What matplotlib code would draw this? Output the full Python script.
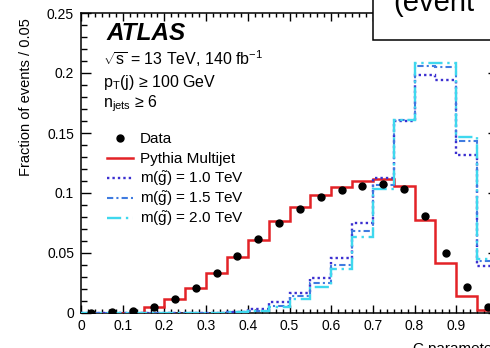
import numpy as np
import matplotlib
matplotlib.use("Agg")
import matplotlib.pyplot as plt
from matplotlib.patches import Rectangle
from matplotlib.ticker import MultipleLocator

plt.rcParams['font.family'] = ['Liberation Sans', 'DejaVu Sans']
plt.rcParams['mathtext.fontset'] = 'custom'
plt.rcParams['mathtext.rm'] = 'Liberation Sans'
plt.rcParams['mathtext.it'] = 'Liberation Sans:italic'
plt.rcParams['mathtext.bf'] = 'Liberation Sans:bold'

# C-parameter bins (width 0.05)
edges = np.linspace(0.0, 1.0, 21)
centers = 0.5 * (edges[:-1] + edges[1:])

data_frac = [0.0, 0.0005, 0.002, 0.005, 0.0114, 0.0205, 0.033, 0.0475,
             0.0614, 0.0747, 0.0864, 0.0964, 0.1025, 0.106, 0.1075, 0.1033,
             0.081, 0.0497, 0.022, 0.0047]
pythia = [0.0, 0.0, 0.0, 0.0047, 0.0114, 0.021, 0.033, 0.047,
          0.061, 0.077, 0.0886, 0.098, 0.105, 0.110, 0.1114, 0.106,
          0.0775, 0.042, 0.014, 0.0025]
gluino_10 = [0.0, 0.0, 0.0, 0.0, 0.0, 0.0, 0.0, 0.001,
             0.003, 0.009, 0.017, 0.029, 0.0455, 0.075, 0.1125, 0.160,
             0.198, 0.194, 0.132, 0.039]
gluino_15 = [0.0, 0.0, 0.0, 0.0, 0.0, 0.0, 0.0, 0.001,
             0.002, 0.006, 0.014, 0.025, 0.040, 0.068, 0.107, 0.161,
             0.206, 0.205, 0.143, 0.043]
gluino_20 = [0.0, 0.0, 0.0, 0.0, 0.0, 0.0, 0.0, 0.001,
             0.002, 0.0047, 0.012, 0.022, 0.037, 0.0636, 0.103, 0.161,
             0.208, 0.208, 0.147, 0.045]

signals = [
    (gluino_10, r'm($\tilde{\mathrm{g}}$) = 1.0 TeV', '#3b2fd0', 1.7, (0, (1, 1.3))),
    (gluino_15, r'm($\tilde{\mathrm{g}}$) = 1.5 TeV', '#3f7be0', 1.5, (0, (3, 1.5, 1, 1.5))),
    (gluino_20, r'm($\tilde{\mathrm{g}}$) = 2.0 TeV', '#3fd8ee', 1.7, (0, (6, 2, 1, 2))),
]

fig = plt.figure(figsize=(4.9, 3.48), dpi=100)
# right edge of the frame runs past the figure border
ax = fig.add_axes([81 / 490, 35 / 348, 417 / 490, 300 / 348])

ax.stairs(pythia, edges, color='#e32227', lw=1.8, zorder=3)
for vals, lab, col, lw, ls in signals:
    ax.stairs(vals, edges, color=col, lw=lw, ls=ls, zorder=4)
ax.plot(centers, data_frac, 'o', color='black', ms=5, zorder=5)

ax.set_xlim(0, 1)
ax.set_ylim(0, 0.25)
ax.xaxis.set_minor_locator(MultipleLocator(0.1 / 6))
ax.yaxis.set_minor_locator(MultipleLocator(0.01))
ax.set_xticks(np.arange(0, 1.01, 0.1))
ax.set_xticklabels(['0', '0.1', '0.2', '0.3', '0.4', '0.5', '0.6', '0.7', '0.8', '0.9', '1'])
ax.set_yticks([0, 0.05, 0.1, 0.15, 0.2, 0.25])
ax.set_yticklabels(['0', '0.05', '0.1', '0.15', '0.2', '0.25'])
ax.tick_params(which='both', direction='in', top=True, right=True, labelsize=10, width=1.0)
ax.tick_params(axis='y', which='major', length=7.5, pad=5)
ax.tick_params(axis='y', which='minor', length=4.2)
ax.tick_params(axis='x', which='major', length=6, pad=4.5)
ax.tick_params(axis='x', which='minor', length=3)
for s in ax.spines.values():
    s.set_linewidth(1.1)

ax.set_xlabel('C-parameter', fontsize=11, loc='right')
ax.xaxis.set_label_coords(1.0, -0.095)
ax.set_ylabel('Fraction of events / 0.05', fontsize=10.5, loc='top')
ax.yaxis.set_label_coords(-0.115, 0.983)

ax.text(0.062, 0.91, 'ATLAS', transform=ax.transAxes, fontsize=17.5,
        fontweight='bold', fontstyle='italic', va='baseline')
ax.text(0.053, 0.827, r'$\sqrt{\mathrm{s}}$ = 13 TeV, 140 fb$^{-1}$', transform=ax.transAxes,
        fontsize=11.5, va='baseline')
ax.text(0.053, 0.753, r'p$_{\mathrm{T}}$(j) ≥ 100 GeV', transform=ax.transAxes,
        fontsize=11.5, va='baseline')
ax.text(0.053, 0.687, r'n$_{\mathrm{jets}}$ ≥ 6', transform=ax.transAxes,
        fontsize=11.5, va='baseline')

# legend, one row per entry with even spacing
hx0, hx1, tx = 0.0624, 0.1247, 0.1415
row_y = [0.5833, 0.5167, 0.45, 0.3833, 0.3167]
ax.plot([0.5 * (hx0 + hx1)], [row_y[0]], 'o', color='black', ms=5,
        transform=ax.transAxes, clip_on=False)
ax.text(tx, row_y[0] - 0.018, 'Data', transform=ax.transAxes, fontsize=11, va='baseline')
ax.plot([hx0, hx1], [row_y[1]] * 2, color='#e32227', lw=1.8, transform=ax.transAxes)
ax.text(tx, row_y[1] - 0.018, 'Pythia Multijet', transform=ax.transAxes, fontsize=11,
        va='baseline')
for (vals, lab, col, lw, ls), y in zip(signals, row_y[2:]):
    ax.plot([hx0, hx1], [y, y], color=col, lw=lw, ls=ls, transform=ax.transAxes)
    ax.text(tx, y - 0.018, lab, transform=ax.transAxes, fontsize=11, va='baseline')

# title box overlapping the top right corner
fig.patches.append(Rectangle((373 / 490, 1 - 40 / 348), 0.5, 0.5, transform=fig.transFigure,
                             facecolor='white', edgecolor='black', lw=1.1, zorder=10))
fig.text(393 / 490, 1 - 11 / 348, '(event', fontsize=21, va='baseline', zorder=11)

fig.savefig('out.png', dpi=100)
